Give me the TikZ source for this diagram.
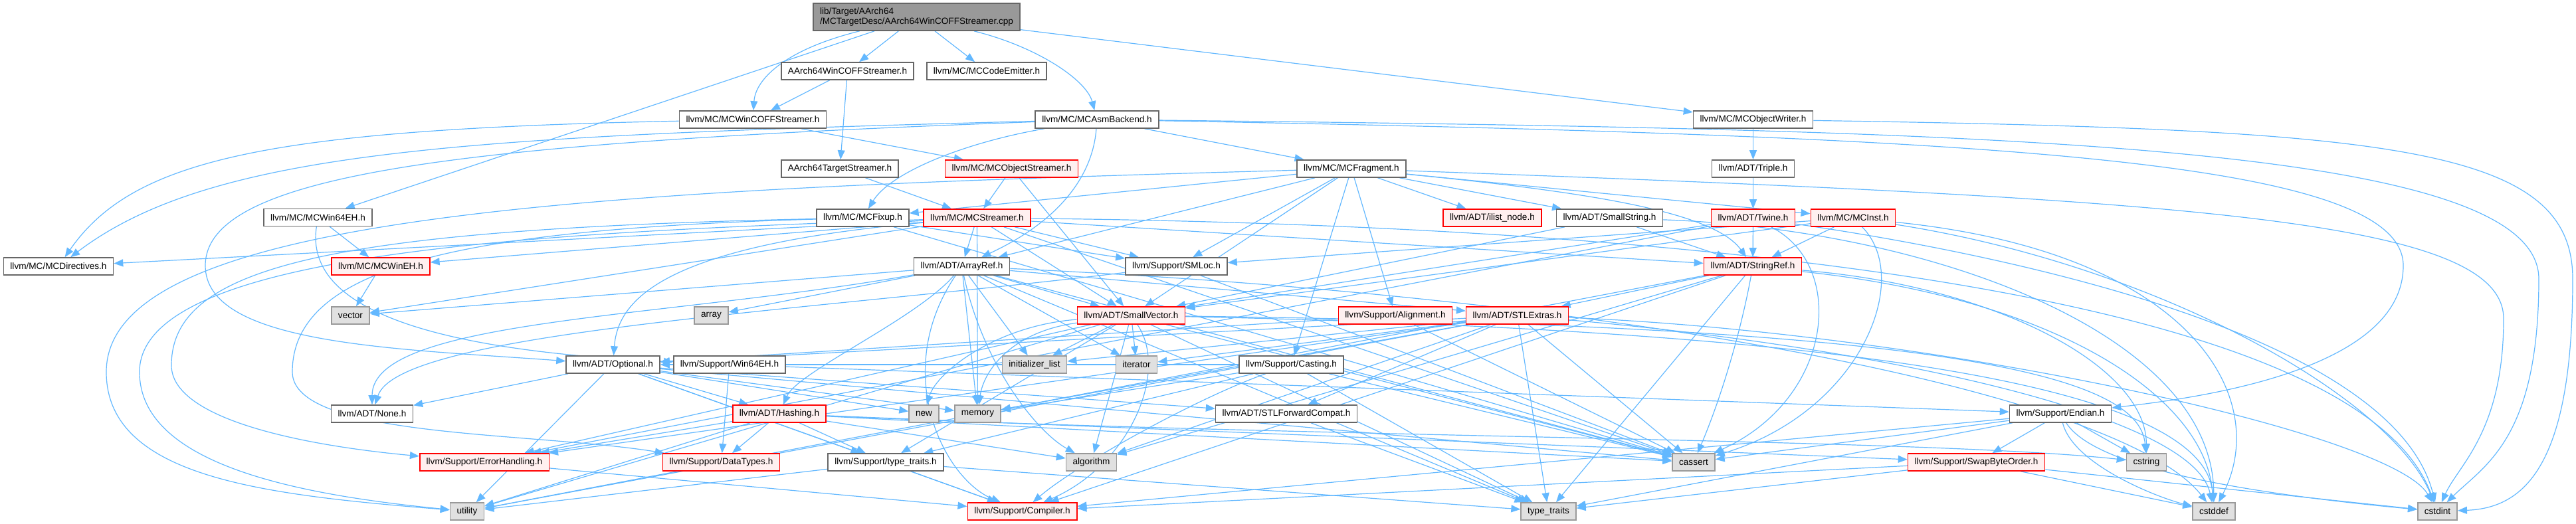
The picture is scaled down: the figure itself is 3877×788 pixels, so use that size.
\documentclass[tikz,border=0pt]{standalone}
\usepackage{fontspec}
\setmainfont{Liberation Sans}
\usepackage{tikz}
\usetikzlibrary{arrows.meta,backgrounds}
\definecolor{edgeblue}{HTML}{63B8FF}
\definecolor{boxgray}{HTML}{666666}
\definecolor{sysdraw}{HTML}{999999}
\definecolor{sysfill}{HTML}{E0E0E0}
\definecolor{truncfill}{HTML}{FFF0F0}
\definecolor{rootfill}{HTML}{999999}
\tikzset{
  hdr/.style={draw=boxgray,fill=white,line width=0.8pt,font=\fontsize{6.8}{7.6}\selectfont,
    inner xsep=5pt,inner ysep=0pt,minimum height=13pt},
  trunc/.style={hdr,draw=red,fill=truncfill},     % header with hidden includes
  sys/.style={hdr,draw=sysdraw,fill=sysfill},     % system header
  rootnode/.style={hdr,fill=rootfill,align=left,minimum height=20.5pt},
  dep/.style={-{Triangle[length=7pt,width=5.5pt]},draw=edgeblue,line width=0.6pt},
}
\begin{document}
\begin{tikzpicture}[x=0.5pt,y=-0.5pt]
  \useasboundingbox (0,0) rectangle (3877,788);
  % ---- files ----
  \node[rootnode] (root) at (1379.5,25.5) {lib/Target/AArch64\\/MCTargetDesc/AArch64WinCOFFStreamer.cpp};
  \node[hdr] (a64wcs) at (1275.5,107) {AArch64WinCOFFStreamer.h};
  \node[hdr] (mcce) at (1485,107) {llvm/MC/MCCodeEmitter.h};
  \node[hdr] (mcwcs) at (1133,180) {llvm/MC/MCWinCOFFStreamer.h};
  \node[hdr] (mcab) at (1651,180) {llvm/MC/MCAsmBackend.h};
  \node[hdr] (mcow) at (2638.5,180) {llvm/MC/MCObjectWriter.h};
  \node[hdr] (a64ts) at (1264,254) {AArch64TargetStreamer.h};
  \node[trunc] (mcos) at (1522.5,254) {llvm/MC/MCObjectStreamer.h};
  \node[hdr] (mcfrag) at (2034,254) {llvm/MC/MCFragment.h};
  \node[hdr] (triple) at (2638.5,254) {llvm/ADT/Triple.h};
  \node[hdr] (mcw64) at (478.5,327.5) {llvm/MC/MCWin64EH.h};
  \node[hdr] (mcfix) at (1298.5,328) {llvm/MC/MCFixup.h};
  \node[trunc] (mcstr) at (1470.5,328) {llvm/MC/MCStreamer.h};
  \node[trunc] (ilist) at (2246,328) {llvm/ADT/ilist\_node.h};
  \node[hdr] (smstr) at (2422.5,328) {llvm/ADT/SmallString.h};
  \node[trunc] (twine) at (2638.5,328) {llvm/ADT/Twine.h};
  \node[trunc] (mcinst) at (2789,328) {llvm/MC/MCInst.h};
  \node[hdr] (mcdir) at (88,401) {llvm/MC/MCDirectives.h};
  \node[trunc] (mcweh) at (573,401) {llvm/MC/MCWinEH.h};
  \node[hdr] (arrayref) at (1447.5,401) {llvm/ADT/ArrayRef.h};
  \node[hdr] (smloc) at (1770.5,401) {llvm/Support/SMLoc.h};
  \node[trunc] (strref) at (2638,401) {llvm/ADT/StringRef.h};
  \node[sys] (vec) at (527.5,475) {vector};
  \node[sys] (arr) at (1070.5,475) {array};
  \node[trunc] (smvec) at (1702.5,475) {llvm/ADT/SmallVector.h};
  \node[trunc] (alignh) at (2100,475) {llvm/Support/Alignment.h};
  \node[trunc] (stlext) at (2283.5,475) {llvm/ADT/STLExtras.h};
  \node[hdr] (optional) at (922.5,549) {llvm/ADT/Optional.h};
  \node[hdr] (win64eh) at (1098,549) {llvm/Support/Win64EH.h};
  \node[sys] (initl) at (1557,549) {initializer\_list};
  \node[sys] (iter) at (1710.5,549) {iterator};
  \node[hdr] (casting) at (1943.5,549) {llvm/Support/Casting.h};
  \node[hdr] (noneh) at (560,623) {llvm/ADT/None.h};
  \node[trunc] (hashing) at (1173,623) {llvm/ADT/Hashing.h};
  \node[sys] (newh) at (1390.5,623) {new};
  \node[sys] (mem) at (1471.5,623) {memory};
  \node[hdr] (stlfc) at (1936,623) {llvm/ADT/STLForwardCompat.h};
  \node[hdr] (endian) at (3101,623) {llvm/Support/Endian.h};
  \node[trunc] (errh) at (729,696) {llvm/Support/ErrorHandling.h};
  \node[trunc] (datat) at (1085.5,696) {llvm/Support/DataTypes.h};
  \node[hdr] (typetr) at (1333,696) {llvm/Support/type\_traits.h};
  \node[sys] (algo) at (1642.5,696) {algorithm};
  \node[sys] (cass) at (2549,696) {cassert};
  \node[trunc] (swap) at (2974.5,696) {llvm/Support/SwapByteOrder.h};
  \node[sys] (cstr) at (3230.5,696) {cstring};
  \node[sys] (util) at (703,770) {utility};
  \node[trunc] (compiler) at (1538.5,770) {llvm/Support/Compiler.h};
  \node[sys] (ttr) at (2330.5,770) {type\_traits};
  \node[sys] (cdef) at (3332,770) {cstddef};
  \node[sys] (cint) at (3668.5,770) {cstdint};
  % ---- includes ----
  \begin{scope}[on background layer]
  \foreach \a/\b in {root/a64wcs,root/mcce,root/mcow,root/mcw64,a64wcs/a64ts,a64wcs/mcwcs,
    a64ts/mcstr,mcwcs/mcos,mcos/mcstr,mcos/smvec,mcab/mcfrag,mcow/triple,triple/twine,
    mcfrag/ilist,mcfrag/smstr,mcfrag/mcinst,mcfrag/mcfix,mcfrag/arrayref,mcfrag/smvec,
    mcfrag/smloc,mcfrag/alignh,mcfrag/casting,mcw64/mcweh,mcfix/smloc,mcfix/cass,
    mcstr/arrayref,mcstr/smvec,mcstr/smloc,mcstr/strref,mcstr/mcdir,mcstr/mcweh,mcstr/vec,
    mcstr/cass,mcstr/mem,smstr/smvec,smstr/strref,twine/strref,twine/smvec,twine/errh,
    mcinst/strref,mcinst/smvec,mcinst/smloc,mcweh/vec,arrayref/smvec,arrayref/stlext,
    arrayref/arr,arrayref/cass,arrayref/initl,arrayref/iter,arrayref/mem,arrayref/ttr,
    arrayref/vec,smloc/cass,strref/stlext,strref/compiler,strref/algo,strref/ttr,strref/util,
    smvec/errh,smvec/typetr,smvec/algo,smvec/cass,smvec/initl,smvec/iter,smvec/ttr,smvec/util,
    alignh/optional,alignh/cass,stlext/optional,stlext/stlfc,stlext/errh,stlext/algo,
    stlext/cass,stlext/initl,stlext/iter,stlext/mem,stlext/ttr,stlext/util,optional/hashing,
    optional/noneh,optional/stlfc,optional/compiler,optional/typetr,optional/cass,optional/mem,
    optional/newh,optional/util,win64eh/datat,win64eh/endian,casting/optional,casting/typetr,
    casting/cass,casting/mem,casting/ttr,hashing/datat,hashing/errh,hashing/swap,
    hashing/typetr,hashing/algo,hashing/cass,hashing/util,stlfc/ttr,endian/compiler,
    endian/swap,endian/cass,endian/cstr,endian/ttr,errh/compiler,typetr/compiler,typetr/ttr,
    typetr/util,swap/cdef,swap/cint,swap/ttr,swap/compiler}
    \draw[dep] (\a) -- (\b);
  \draw[dep] (root) .. controls (1560,70) and (1635,120) .. (mcab);
  \draw[dep] (root) .. controls (1180,75) and (1137,120) .. (mcwcs);
  \draw[dep] (mcwcs) .. controls (400,195) and (200,240) .. (mcdir);
  \draw[dep] (mcab) .. controls (700,205) and (320,225) .. (mcdir);
  \draw[dep] (mcab) .. controls (700,215) and (309,260) .. (309,400)
    .. controls (309,520) and (600,525) .. (optional);
  \draw[dep] (mcab) .. controls (1450,215) and (1340,260) .. (mcfix);
  \draw[dep] (mcab) .. controls (1645,260) and (1600,330) .. (arrayref);
  \draw[dep] (mcab) .. controls (3000,205) and (3617,240) .. (3617,400)
    .. controls (3617,560) and (3300,600) .. (endian);
  \draw[dep] (mcab) .. controls (3000,195) and (3821,215) .. (3821,420)
    .. controls (3821,660) and (3740,700) .. (cint);
  \draw[dep] (mcow) .. controls (3600,195) and (3872,220) .. (3872,420)
    .. controls (3872,700) and (3800,765) .. (cint);
  \draw[dep] (mcfrag) .. controls (2400,290) and (2580,320) .. (strref);
  \draw[dep] (mcfrag) .. controls (3300,300) and (3768,330) .. (3768,480)
    .. controls (3768,650) and (3700,700) .. (cint);
  \draw[dep] (mcfrag) .. controls (900,285) and (160,320) .. (160,560)
    .. controls (160,720) and (400,745) .. (util);
  \draw[dep] (mcw64) .. controls (455,480) and (700,530) .. (win64eh);
  \draw[dep] (mcfix) .. controls (500,345) and (258,400) .. (258,550)
    .. controls (258,630) and (450,670) .. (errh);
  \draw[dep] (mcfix) .. controls (700,345) and (440,400) .. (440,560)
    .. controls (440,660) and (800,650) .. (datat);
  \draw[dep] (mcstr) .. controls (1000,370) and (930,450) .. (optional);
  \draw[dep] (mcstr) .. controls (2600,340) and (3550,450) .. (cint);
  \draw[dep] (mcstr) .. controls (800,350) and (210,380) .. (210,560)
    .. controls (210,700) and (450,745) .. (util);
  \draw[dep] (smstr) .. controls (2900,345) and (3330,500) .. (cdef);
  \draw[dep] (twine) .. controls (2780,400) and (2760,600) .. (cass);
  \draw[dep] (twine) .. controls (3000,380) and (3600,500) .. (cint);
  \draw[dep] (mcinst) .. controls (2880,420) and (2800,620) .. (cass);
  \draw[dep] (mcinst) .. controls (3300,380) and (3420,600) .. (cdef);
  \draw[dep] (mcinst) .. controls (3250,400) and (3600,600) .. (cint);
  \draw[dep] (arrayref) .. controls (1380,480) and (1200,560) .. (hashing);
  \draw[dep] (arrayref) .. controls (1000,480) and (560,480) .. (noneh);
  \draw[dep] (arrayref) .. controls (1340,560) and (1420,720) .. (compiler);
  \draw[dep] (arrayref) .. controls (1480,550) and (1560,650) .. (algo);
  \draw[dep] (arrayref) .. controls (2500,450) and (3200,600) .. (cdef);
  \draw[dep] (smloc) .. controls (1200,470) and (600,500) .. (noneh);
  \draw[dep] (strref) .. controls (2620,500) and (2590,600) .. (cass);
  \draw[dep] (strref) .. controls (3100,450) and (3320,600) .. (cdef);
  \draw[dep] (strref) .. controls (3000,430) and (3230,550) .. (cstr);
  \draw[dep] (smvec) .. controls (1760,560) and (1700,700) .. (compiler);
  \draw[dep] (smvec) .. controls (2900,500) and (3320,600) .. (cdef);
  \draw[dep] (smvec) .. controls (2900,490) and (3220,560) .. (cstr);
  \draw[dep] (smvec) .. controls (1520,500) and (1480,560) .. (mem);
  \draw[dep] (smvec) .. controls (1500,490) and (1410,560) .. (newh);
  \draw[dep] (stlext) .. controls (2800,520) and (3300,620) .. (cdef);
  \draw[dep] (stlext) .. controls (2900,500) and (3600,650) .. (cint);
  \draw[dep] (casting) .. controls (1800,600) and (1620,700) .. (compiler);
  \draw[dep] (endian) .. controls (3120,700) and (3250,750) .. (cdef);
  \draw[dep] (endian) .. controls (3150,700) and (3350,740) .. (cint);
  \draw[dep] (hashing) .. controls (2000,660) and (2900,660) .. (cstr);
  \end{scope}
\end{tikzpicture}
\end{document}
